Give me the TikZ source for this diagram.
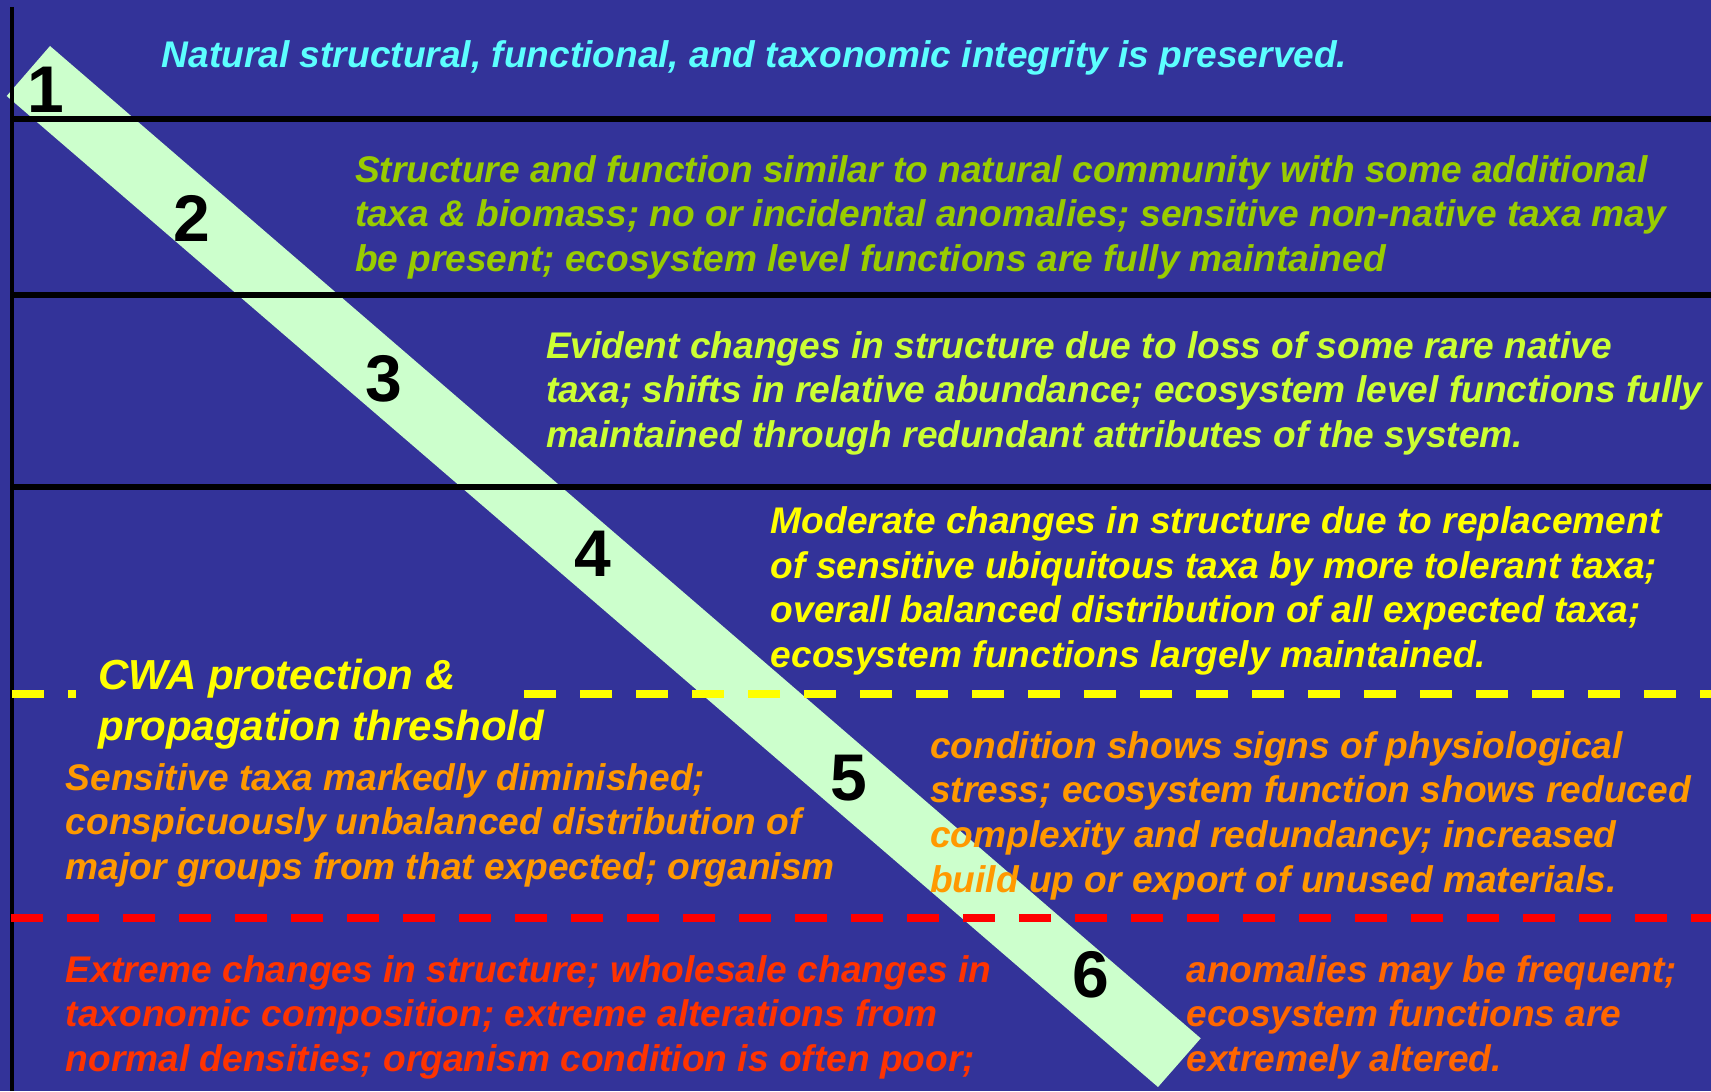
\documentclass[tikz,border=0pt]{standalone}
\usepackage{fontspec}
\setmainfont{Liberation Sans}

\definecolor{bgblue}{HTML}{333399}
\definecolor{bandgreen}{HTML}{CCFFCC}
\definecolor{tcyan}{HTML}{5CFFFF}
\definecolor{tgreen}{HTML}{99CC00}
\definecolor{tlime}{HTML}{CCFF33}
\definecolor{tyellow}{HTML}{FFFF00}
\definecolor{torange}{HTML}{FF9900}
\definecolor{tdark}{HTML}{FF6600}
\definecolor{tred}{HTML}{FF3300}

% multi-line nodes sit on the baseline of their last line
\tikzset{
  txt/.style={anchor=base west, align=left, inner sep=0pt,
    font=\fontsize{18.55}{22.35}\selectfont\bfseries\itshape},
  num/.style={inner sep=0pt, font=\fontsize{33}{33}\selectfont\bfseries},
  tier/.style={line width=3pt},
  threshold/.style={line width=4pt, dash pattern=on 16pt off 12pt},
}

\begin{document}
\begin{tikzpicture}[x=0.5pt,y=-0.5pt]
\useasboundingbox (0,0) rectangle (1711,1091);
\fill[bgblue] (0,0) rectangle (1711,1091);

% the diagonal band
\coordinate (T) at (50,46);
\coordinate (R) at (1200.7,1038.3);
\coordinate (B) at (1158,1087);
\coordinate (L) at (6.7,96);
\fill[bandgreen] (T)--(R)--(B)--(L)--cycle;

% axis and tier borders
\draw[line width=2pt] (12,7)--(12,1091);
\draw[tier] (12,119)--(1711,119);
\draw[tier] (12,295)--(1711,295);
\draw[tier] (12,487)--(1711,487);

% thresholds
\draw[threshold, tyellow] (12,694)--(76,694);
\draw[threshold, tyellow] (524,694)--(1711,694);
\draw[threshold, red] (11,918)--(1711,918);

% tier texts
\node[txt, tcyan] (t1) at (161.5,68) {Natural structural, functional, and taxonomic integrity is preserved.};
\node[txt, tgreen] (t2) at (354.6,271.4) {Structure and function similar to natural community with some additional\\
taxa \& biomass; no or incidental anomalies; sensitive non-native taxa may\\
be present; ecosystem level functions are fully maintained};
\node[txt, tlime] (t3) at (545.6,447.4) {Evident changes in structure due to loss of some rare native\\
taxa; shifts in relative abundance; ecosystem level functions fully\\
maintained through redundant attributes of the system.};
\node[txt, tyellow] (t4) at (770.4,667.6) {Moderate changes in structure due to replacement\\
of sensitive ubiquitous taxa by more tolerant taxa;\\
overall balanced distribution of all expected taxa;\\
ecosystem functions largely maintained.};
\node[txt, tyellow, font=\fontsize{21}{25.5}\selectfont\bfseries\itshape] (cwa) at (98.2,740) {CWA protection \&\\
propagation threshold};
\node[txt, torange] (t5a) at (65.5,879.4) {Sensitive taxa markedly diminished;\\
conspicuously unbalanced distribution of\\
major groups from that expected; organism};
\node[txt, torange] (t5b) at (929.7,892.1) {condition shows signs of physiological\\
stress; ecosystem function shows reduced\\
complexity and redundancy; increased\\
build up or export of unused materials.};
\node[txt, tred] (t6a) at (65.5,1071.4) {Extreme changes in structure; wholesale changes in\\
taxonomic composition; extreme alterations from\\
normal densities; organism condition is often poor;};
\node[txt, tdark] (t6b) at (1186,1071.4) {anomalies may be frequent;\\
ecosystem functions are\\
extremely altered.};

% tier numbers on the band
\node[num] (n1) at (45.8,89.5) {1};
\node[num] (n2) at (192,218) {2};
\node[num] (n3) at (384,378.6) {3};
\node[num] (n4) at (592.5,554) {4};
\node[num] (n5) at (849,778) {5};
\node[num] (n6) at (1091,974.4) {6};
\end{tikzpicture}
\end{document}
